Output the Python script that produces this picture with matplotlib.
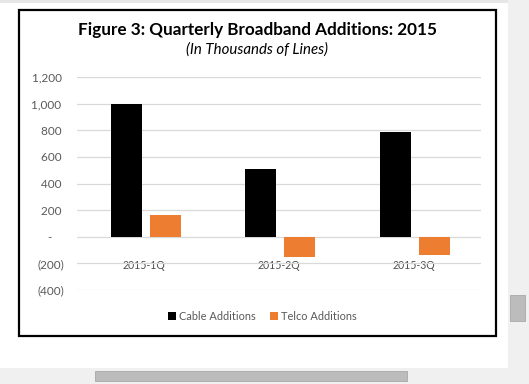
import matplotlib
matplotlib.use("Agg")
import matplotlib.pyplot as plt
from matplotlib.patches import Rectangle, Patch
import numpy as np

categories = ["2015-1Q", "2015-2Q", "2015-3Q"]
cable = [1000, 510, 785]
telco = [160, -150, -140]
series_names = ["Cable Additions", "Telco Additions"]
yticks = [-400, -200, 0, 200, 400, 600, 800, 1000, 1200]

FONT = "Lato"
TXT = "#595959"

def fmt(v):
    if v == 0:
        return "-    "
    if v < 0:
        return "({:,})".format(-v)
    return "{:,} ".format(v)

W, H = 529, 384
fig = plt.figure(figsize=(W / 100, H / 100), dpi=100)
fig.patch.set_facecolor("white")

# screenshot chrome: scrollbars
fig.patches.append(Rectangle((508 / W, 0), 21 / W, 1, transform=fig.transFigure,
                             facecolor="#F0F0F0", edgecolor="none", zorder=0))
fig.patches.append(Rectangle((0, 0), 1, 16 / H, transform=fig.transFigure,
                             facecolor="#F0F0F0", edgecolor="none", zorder=0))
fig.patches.append(Rectangle((95 / W, (H - 381) / H), 312 / W, 10 / H, transform=fig.transFigure,
                             facecolor="#BCBCBC", edgecolor="#A8A8A8", lw=0.6, zorder=1))
fig.patches.append(Rectangle((510 / W, (H - 321) / H), 15 / W, 26 / H, transform=fig.transFigure,
                             facecolor="#BCBCBC", edgecolor="#A8A8A8", lw=0.6, zorder=1))
fig.patches.append(Rectangle((0, (H - 3) / H), 508 / W, 3 / H, transform=fig.transFigure,
                             facecolor="#E6E6E6", edgecolor="none", zorder=0))
# chart frame
fig.patches.append(Rectangle((19 / W, (H - 336) / H), 477 / W, 326 / H, transform=fig.transFigure,
                             facecolor="white", edgecolor="black", lw=1.6, zorder=1))

ax = fig.add_axes([77 / W, 1 - 290 / H, 404 / W, 213 / H])
ax.set_facecolor("none")
ax.set_zorder(3)

x = np.arange(len(categories))
bw = 0.23
ax.bar(x - 0.135, cable, width=bw, color="black", label=series_names[0], zorder=3)
ax.bar(x + 0.155, telco, width=bw, color="#ED7D31", label=series_names[1], zorder=3)

ax.set_xlim(-0.5, len(categories) - 0.5)
ax.set_ylim(-400, 1200)
ax.set_yticks(yticks)
ax.set_yticklabels([fmt(v) for v in yticks], fontname=FONT, fontsize=8.5, color=TXT)
ax.yaxis.grid(True, color="#D9D9D9", lw=0.9, zorder=0)
ax.tick_params(axis="y", length=0, pad=9)

ax.spines["bottom"].set_position(("data", 0))
for s in ["left", "right", "top", "bottom"]:
    ax.spines[s].set_visible(False)
ax.set_xticks(x)
ax.set_xticklabels(categories, fontname=FONT, fontsize=7.6, color="#4D4D4D")
ax.tick_params(axis="x", length=0, pad=16.5)

fig.text(257 / W, 1 - 30 / H, "Figure 3: Quarterly Broadband Additions: 2015",
         ha="center", va="center", fontname=FONT, fontweight="bold", fontsize=12.3, color="black")
fig.text(257 / W, 1 - 50 / H, "(In Thousands of Lines)",
         ha="center", va="center", fontname=FONT, fontstyle="italic", fontsize=10.8, color="black")

handles = [Patch(facecolor="black"), Patch(facecolor="#ED7D31")]
fig.legend(handles, series_names, loc="center", bbox_to_anchor=(262.5 / W, 1 - 316 / H),
           ncol=2, frameon=False, prop={"family": FONT, "size": 7.9},
           handlelength=0.75, handleheight=0.75, handletextpad=0.25, columnspacing=1.3,
           labelcolor=TXT)

fig.savefig("out.png", dpi=100)
